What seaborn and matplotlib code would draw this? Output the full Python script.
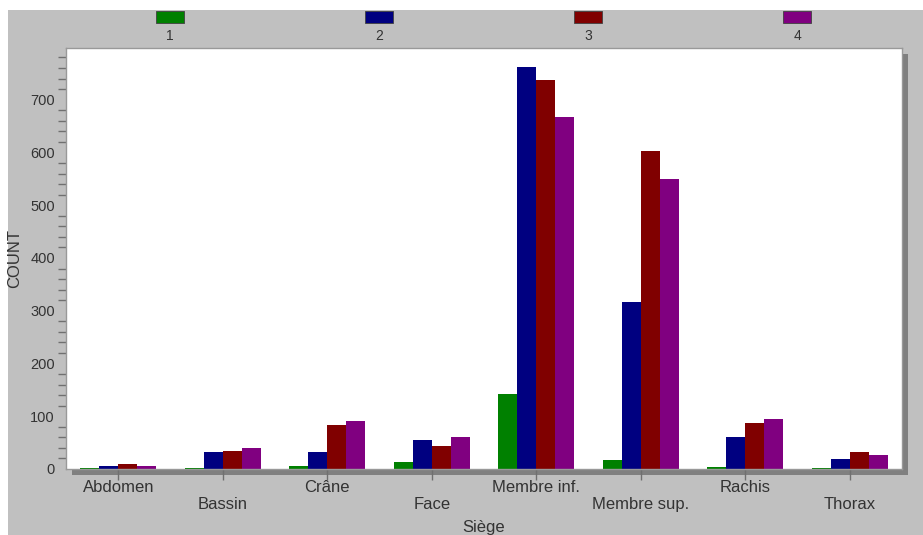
import matplotlib
matplotlib.use("Agg")
import matplotlib.pyplot as plt
from matplotlib.patches import Rectangle
from matplotlib.ticker import MultipleLocator
import pandas as pd
import seaborn as sns

# données
sieges = ["Abdomen", "Bassin", "Crâne", "Face", "Membre inf.", "Membre sup.", "Rachis", "Thorax"]
groupes = ["1", "2", "3", "4"]
g1 = [1, 2, 6, 14, 142, 18, 3, 1]
g2 = [6, 32, 32, 55, 762, 317, 61, 19]
g3 = [10, 35, 84, 43, 737, 602, 88, 32]
g4 = [6, 39, 91, 61, 667, 550, 94, 27]
couleurs = ["#008000", "#000080", "#800000", "#800080"]

df = pd.DataFrame({
    "Siège": sieges * 4,
    "groupe": [g for g in groupes for _ in sieges],
    "COUNT": g1 + g2 + g3 + g4,
})

sns.set_style("white")
plt.rcParams["font.family"] = ["Liberation Sans", "DejaVu Sans"]

W, H = 923, 535
fig = plt.figure(figsize=(W / 100, H / 100), dpi=100)
fig.patch.set_facecolor("white")

# fond gris
fig.add_artist(Rectangle((8 / W, 0), 1, 1 - 10 / H, transform=fig.transFigure,
                         fc="#c0c0c0", ec="none", zorder=-3))

x0, x1, y0, y1 = 66, 902, 469, 48  # bords de la zone de tracé (pixels)
ax = fig.add_axes([x0 / W, 1 - y0 / H, (x1 - x0) / W, (y0 - y1) / H])
ax.set_zorder(1)

# ombre du cadre
fig.add_artist(Rectangle(((x0 + 6) / W, 1 - (y0 + 6) / H), (x1 - x0) / W, (y0 - y1) / H,
                         transform=fig.transFigure, fc="#808080", ec="none", zorder=-1))

sns.barplot(data=df, x="Siège", y="COUNT", hue="groupe", hue_order=groupes,
            palette=couleurs, saturation=1, width=0.725, gap=0, errorbar=None,
            linewidth=0, legend=False, ax=ax)

ax.set_facecolor("white")
ax.set_xlim(-0.5, len(sieges) - 0.5)
ax.set_ylim(0, 798)
ax.yaxis.set_major_locator(MultipleLocator(100))
ax.yaxis.set_minor_locator(MultipleLocator(20))
for s in ax.spines.values():
    s.set_color("#999999")
    s.set_linewidth(1)

ax.tick_params(axis="y", which="major", direction="out", length=7, width=1,
               color="#707070", labelsize=10.5, labelcolor="#333333", pad=1)
ax.tick_params(axis="y", which="minor", direction="out", length=6, width=1,
               color="#707070", left=True)
ax.tick_params(axis="x", direction="out", length=8, width=1, color="#707070",
               labelsize=12, labelcolor="#333333", pad=0, bottom=True)

# étiquettes en quinconce
ax.set_xticks(range(len(sieges)))
ax.set_xticklabels([s if i % 2 == 0 else "\n" + s for i, s in enumerate(sieges)],
                   va="top", linespacing=1.15)

ax.set_xlabel("Siège", fontsize=12, color="#333333")
ax.set_ylabel("COUNT", fontsize=12, color="#333333")
ax.xaxis.set_label_coords(0.5, -0.122)
ax.yaxis.set_label_coords(-0.052, 0.5)

# légende en haut, étiquettes sous les carrés
for i, (g, c) in enumerate(zip(groupes, couleurs)):
    cx = (170 + 209 * i) / W
    fig.add_artist(Rectangle((cx - 14 / W, 1 - 23 / H), 28 / W, 12 / H,
                             transform=fig.transFigure, fc=c, ec="#404040", lw=0.6))
    fig.text(cx, 1 - 29 / H, g, ha="center", va="top", fontsize=10, color="#333333")

fig.savefig("out.png", dpi=100)
